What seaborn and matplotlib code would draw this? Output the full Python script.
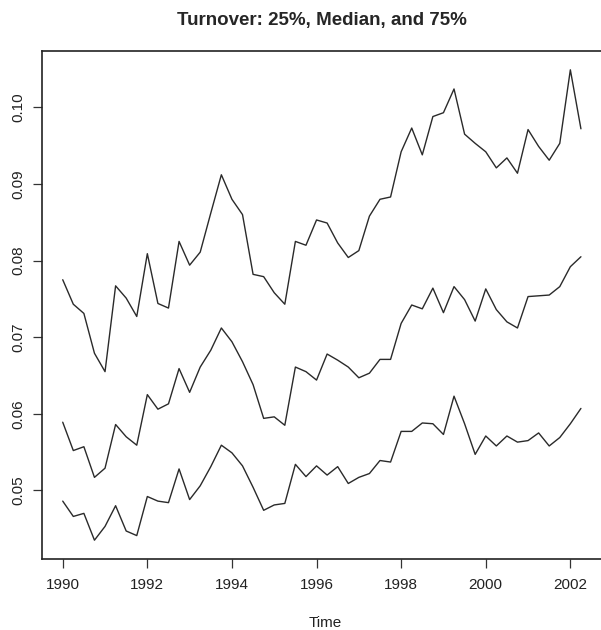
import numpy as np
import pandas as pd
import matplotlib
matplotlib.use("Agg")
import matplotlib.pyplot as plt
import seaborn as sns

# quarterly turnover quantiles, 1990 Q1 - 2002 Q2
q75 = [0.0775, 0.0743, 0.0731, 0.0679, 0.0655, 0.0767, 0.0751, 0.0727, 0.0809, 0.0744,
       0.0738, 0.0825, 0.0794, 0.0811, 0.0862, 0.0912, 0.0880, 0.0860, 0.0782, 0.0779,
       0.0758, 0.0743, 0.0825, 0.0820, 0.0853, 0.0849, 0.0823, 0.0804, 0.0813, 0.0858,
       0.0880, 0.0883, 0.0942, 0.0973, 0.0938, 0.0988, 0.0993, 0.1024, 0.0965, 0.0953,
       0.0942, 0.0921, 0.0934, 0.0914, 0.0971, 0.0949, 0.0931, 0.0953, 0.1049, 0.0972]
median = [0.0589, 0.0552, 0.0557, 0.0517, 0.0529, 0.0586, 0.0570, 0.0559, 0.0625, 0.0606,
          0.0613, 0.0659, 0.0628, 0.0661, 0.0683, 0.0712, 0.0694, 0.0668, 0.0638, 0.0594,
          0.0596, 0.0585, 0.0661, 0.0655, 0.0644, 0.0678, 0.0670, 0.0661, 0.0647, 0.0653,
          0.0671, 0.0671, 0.0718, 0.0742, 0.0737, 0.0764, 0.0732, 0.0766, 0.0749, 0.0721,
          0.0763, 0.0736, 0.0720, 0.0712, 0.0753, 0.0754, 0.0755, 0.0766, 0.0792, 0.0805]
q25 = [0.0486, 0.0466, 0.0470, 0.0435, 0.0453, 0.0480, 0.0447, 0.0441, 0.0492, 0.0486,
       0.0484, 0.0528, 0.0488, 0.0506, 0.0531, 0.0559, 0.0549, 0.0532, 0.0504, 0.0474,
       0.0481, 0.0483, 0.0534, 0.0518, 0.0532, 0.0520, 0.0531, 0.0509, 0.0517, 0.0522,
       0.0539, 0.0537, 0.0577, 0.0577, 0.0588, 0.0587, 0.0573, 0.0623, 0.0587, 0.0547,
       0.0571, 0.0558, 0.0571, 0.0563, 0.0565, 0.0575, 0.0558, 0.0569, 0.0587, 0.0607]
time = 1990 + np.arange(len(q75)) / 4
xticks = [1990, 1992, 1994, 1996, 1998, 2000, 2002]
yticks = [0.05, 0.06, 0.07, 0.08, 0.09, 0.10]

df = pd.DataFrame({"Time": time, "q75": q75, "median": median, "q25": q25})

sns.set_style("ticks")
plt.rcParams["font.family"] = ["Liberation Sans", "DejaVu Sans"]

fig = plt.figure(figsize=(6.01, 6.30), dpi=100)
# plot box runs past the right edge of the picture, as in the original
ax = fig.add_axes([42 / 601, 71 / 630, 566 / 601, 508 / 630])

for col in ["q75", "median", "q25"]:
    sns.lineplot(data=df, x="Time", y=col, ax=ax, color="#2a2a2a", linewidth=1.0)

xr = time[-1] - time[0]
ax.set_xlim(time[0] - 0.04 * xr, time[-1] + 0.04 * xr + 0.15)
lo = min(q25)
hi = max(q75)
ax.set_ylim(lo - 0.04 * (hi - lo), hi + 0.04 * (hi - lo))

ax.set_xticks(xticks)
ax.set_xticklabels([str(t) for t in xticks])
ax.set_yticks(yticks)
ax.set_yticklabels([f"{t:.2f}" for t in yticks])
ax.tick_params(axis="both", length=6.5, width=0.9, color="#333333",
               labelsize=11, labelcolor="#222222")
ax.tick_params(axis="x", pad=7.5)
ax.tick_params(axis="y", pad=5.5)
for lab in ax.get_yticklabels():
    lab.set_rotation(90)
    lab.set_va("center")
    lab.set_ha("right")

for s in ax.spines.values():
    s.set_linewidth(1.2)
    s.set_color("#222222")

ax.set_ylabel("")
ax.set_xlabel("Time", fontsize=11, color="#222222", labelpad=17)
ax.set_title("Turnover: 25%, Median, and 75%", fontsize=13.5, fontweight="bold",
             pad=19, x=(322 - 42) / 566)

fig.savefig("out.png", dpi=100)
